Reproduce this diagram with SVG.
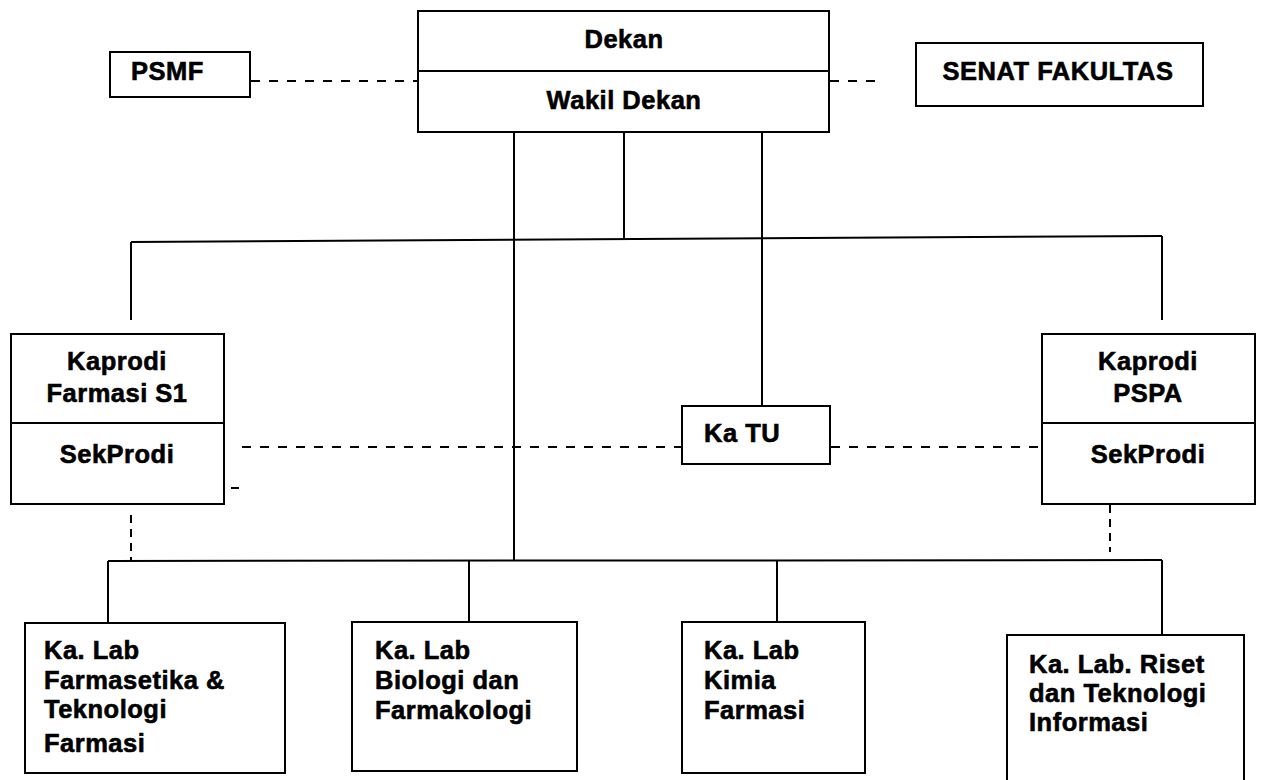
<svg xmlns="http://www.w3.org/2000/svg" width="1262" height="780" viewBox="0 0 1262 780">
<style>
  .box { fill: #ffffff; stroke: #000000; stroke-width: 2; }
  .div { stroke: #000000; stroke-width: 2; fill: none; }
  .solid { stroke: #000000; stroke-width: 2; fill: none; }
  .dash { stroke: #000000; stroke-width: 2; fill: none; stroke-dasharray: 9 9; }
  .vdash { stroke: #000000; stroke-width: 2; fill: none; stroke-dasharray: 8 6; }
  text { font-family: "Liberation Sans", Arial, sans-serif; font-weight: bold; font-size: 25.5px; letter-spacing: 0.5px; fill: #000000; stroke: #000000; stroke-width: 0.6px; }
  .c { text-anchor: middle; }
</style>
<rect width="1262" height="780" fill="#ffffff"/>
<g id="connectors">
  <line class="dash" x1="251" y1="81" x2="418" y2="81"/>
  <line class="dash" x1="830" y1="81" x2="880" y2="81"/>
  <line class="solid" x1="514" y1="132" x2="514" y2="561"/>
  <line class="solid" x1="624" y1="132" x2="624" y2="240"/>
  <line class="solid" x1="762" y1="132" x2="762" y2="406"/>
  <line class="solid" x1="131" y1="242" x2="1162" y2="236"/>
  <line class="solid" x1="131" y1="242" x2="131" y2="320"/>
  <line class="solid" x1="1162" y1="236" x2="1162" y2="320"/>
  <line class="dash" x1="242" y1="447" x2="682" y2="447"/>
  <line class="dash" x1="831" y1="447" x2="1042" y2="447"/>
  <line class="solid" x1="231" y1="488" x2="239" y2="488"/>
  <line class="vdash" x1="131" y1="515" x2="131" y2="561"/>
  <line class="vdash" x1="1110" y1="505" x2="1110" y2="552"/>
  <line class="solid" x1="108" y1="561" x2="1162" y2="560"/>
  <line class="solid" x1="108" y1="561" x2="108" y2="623"/>
  <line class="solid" x1="469" y1="561" x2="469" y2="622"/>
  <line class="solid" x1="777" y1="561" x2="777" y2="622"/>
  <line class="solid" x1="1162" y1="560" x2="1162" y2="635"/>
</g>
<g id="dekan">
  <rect class="box" x="418" y="11" width="411" height="121"/>
  <line class="div" x1="418" y1="71" x2="829" y2="71"/>
  <text class="c" x="624" y="48">Dekan</text>
  <text class="c" x="624" y="109">Wakil Dekan</text>
</g>
<g id="psmf">
  <rect class="box" x="110" y="52" width="140" height="45"/>
  <text x="131" y="80">PSMF</text>
</g>
<g id="senat">
  <rect class="box" x="916" y="43" width="287" height="63"/>
  <text class="c" x="1058" y="80">SENAT FAKULTAS</text>
</g>
<g id="kaprodi-s1">
  <rect class="box" x="11" y="334" width="213" height="170"/>
  <line class="div" x1="11" y1="423" x2="224" y2="423"/>
  <text class="c" x="117" y="370">Kaprodi</text>
  <text class="c" x="117" y="402">Farmasi S1</text>
  <text class="c" x="117" y="463">SekProdi</text>
</g>
<g id="katu">
  <rect class="box" x="682" y="406" width="148" height="58"/>
  <text x="704" y="442">Ka TU</text>
</g>
<g id="kaprodi-pspa">
  <rect class="box" x="1042" y="334" width="213" height="170"/>
  <line class="div" x1="1042" y1="423" x2="1255" y2="423"/>
  <text class="c" x="1148" y="370">Kaprodi</text>
  <text class="c" x="1148" y="402">PSPA</text>
  <text class="c" x="1148" y="463">SekProdi</text>
</g>
<g id="lab-farmasetika">
  <rect class="box" x="25" y="623" width="260" height="150"/>
  <text x="44" y="659">Ka. Lab</text>
  <text x="44" y="689">Farmasetika &amp;</text>
  <text x="44" y="718">Teknologi</text>
  <text x="44" y="752">Farmasi</text>
</g>
<g id="lab-biologi">
  <rect class="box" x="352" y="622" width="225" height="149"/>
  <text x="375" y="659">Ka. Lab</text>
  <text x="375" y="689">Biologi dan</text>
  <text x="375" y="719">Farmakologi</text>
</g>
<g id="lab-kimia">
  <rect class="box" x="682" y="622" width="183" height="151"/>
  <text x="704" y="659">Ka. Lab</text>
  <text x="704" y="689">Kimia</text>
  <text x="704" y="719">Farmasi</text>
</g>
<g id="lab-riset">
  <rect class="box" x="1007" y="635" width="237" height="160"/>
  <text x="1029" y="673">Ka. Lab. Riset</text>
  <text x="1029" y="702">dan Teknologi</text>
  <text x="1029" y="731">Informasi</text>
</g>
</svg>
